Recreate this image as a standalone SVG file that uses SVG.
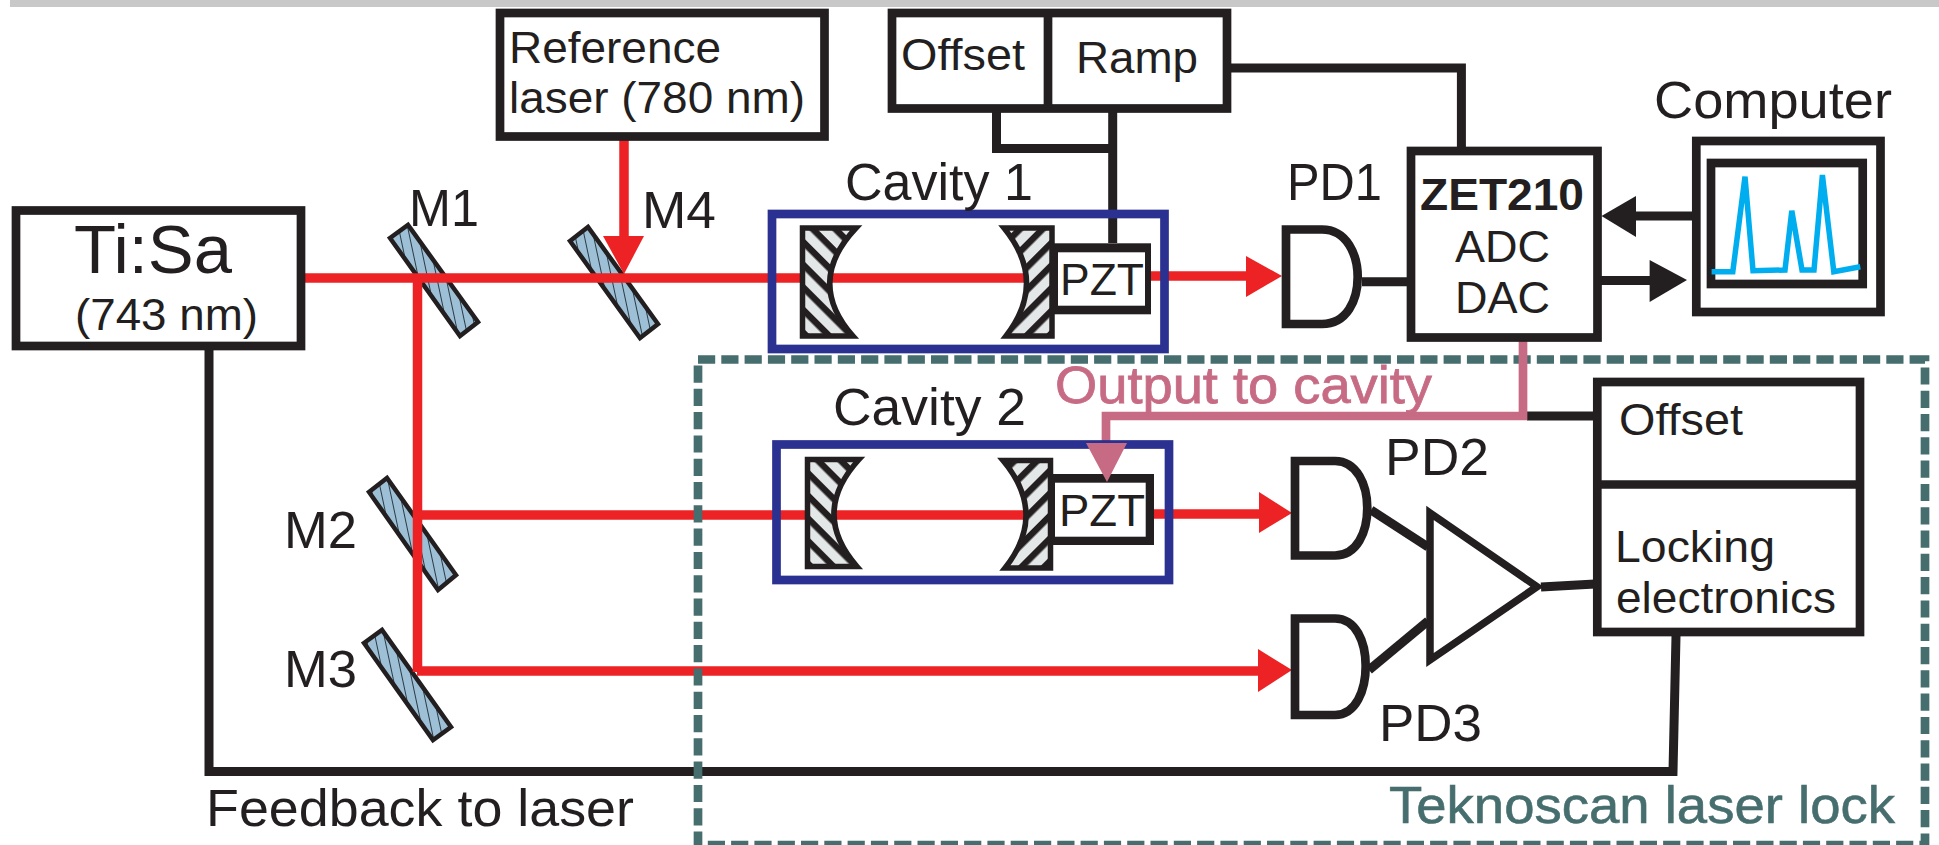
<svg xmlns="http://www.w3.org/2000/svg" width="1939" height="845" viewBox="0 0 1939 845">
<style>
text{font-family:"Liberation Sans",Arial,sans-serif;font-size:45px;fill:#231f20}
.lg{font-size:52px}
.box{fill:#fff;stroke:#231f20;stroke-width:8.7}
.nf{fill:none;stroke:#231f20;stroke-width:8.7}
.cav{fill:none;stroke:#2b3190;stroke-width:8.7}
.red{fill:none;stroke:#ed2224;stroke-width:9.5}
.rh{fill:#ed2224}
.blk{fill:none;stroke:#231f20;stroke-width:9}
.bh{fill:#231f20}
.pink{fill:none;stroke:#c76b85;stroke-width:8.7}
.ph{fill:#c76b85}
.pt{fill:#c76b85;stroke:#c76b85;stroke-width:.8}
.tk{fill:#476e6e;stroke:#476e6e;stroke-width:.6}
.mir{fill:url(#mh);stroke:#231f20;stroke-width:4.5;stroke-linejoin:miter}
.lm{fill:url(#hl);stroke:#231f20;stroke-width:5.5}
.rm{fill:url(#hr);stroke:#231f20;stroke-width:5.5}
</style>
<defs>
<pattern id="mh" width="9" height="9" patternUnits="userSpaceOnUse" patternTransform="rotate(-12)"><rect width="9" height="9" fill="#9dc0d6"/><rect width="1" height="9" fill="#2b3a44"/></pattern>
<pattern id="hl" width="16" height="16" patternUnits="userSpaceOnUse" patternTransform="rotate(45)"><rect width="16" height="16" fill="#e3e7e7"/><rect width="16" height="6.500" fill="#231f20"/></pattern>
<pattern id="hr" width="16" height="16" patternUnits="userSpaceOnUse" patternTransform="rotate(-45)"><rect width="16" height="16" fill="#e3e7e7"/><rect width="16" height="6.500" fill="#231f20"/></pattern>
</defs>
<rect width="1939" height="845" fill="#fff"/>
<rect x="10" y="0" width="1929" height="7" fill="#c8c8c8"/>

<g id="mirrors">
<polygon id="M1" class="mir" points="390,238 408,225 478,322 460,336"/>
<polygon id="M4" class="mir" points="570,241 588,227 658,324 640,338"/>
<polygon id="M2" class="mir" points="369,492 387,478 456,575 438,590"/>
<polygon id="M3" class="mir" points="364,643 382,630 451,727 433,740"/>
</g>

<g id="connectors">
<path class="red" d="M305 278H1030"/>
<path class="red" d="M417.5 278V672"/>
<path class="red" d="M417 515H1030"/>
<path class="red" d="M417 671H1262"/>
<path class="red" d="M1151 276H1250"/>
<path class="red" d="M1154 514H1262"/>
<path class="red" d="M624 140V240"/>
<polygon class="rh" points="603,236 644,236 624,274"/>
<polygon class="rh" points="1246,256 1282,276 1246,297"/>
<polygon class="rh" points="1259,492 1292,513 1259,533"/>
<polygon class="rh" points="1258,649 1292,670 1258,692"/>
<path class="blk" d="M209 350V771.500H1673L1676 636"/>
<path class="blk" d="M996.500 112V148.500H1112.700"/>
<path class="blk" d="M1112.700 112V243"/>
<path class="blk" d="M1231 68H1461.400V147"/>
<path class="blk" d="M1362 281.700H1407"/>
<path class="blk" d="M1692 216H1633"/>
<polygon class="bh" points="1636,196 1636,237 1601.500,216"/>
<path class="blk" d="M1600 280.500H1653"/>
<polygon class="bh" points="1649.600,260 1649.600,302 1687,280"/>
<path class="blk" d="M1371 510L1428 547"/>
<path class="blk" stroke-width="10" d="M1369 670L1428 621"/>
<path class="blk" d="M1541 587L1595 584"/>
<path class="blk" d="M1527 416H1595"/>
</g>

<g id="teknoscan-frame">
<path d="M698 359.500H1925V845H698Z" fill="none" stroke="#476e6e" stroke-width="8.700" stroke-dasharray="17.200 6.100"/>
<text class="lg tk" x="1389" y="822.500" textLength="506" lengthAdjust="spacingAndGlyphs">Teknoscan laser lock</text>
</g>

<g id="output-to-cavity">
<path class="pink" d="M1523 341V416H1106V446"/>
<text class="lg pt" x="1055" y="403" textLength="377" lengthAdjust="spacingAndGlyphs">Output to cavity</text>
</g>

<g id="tisa">
<rect class="box" x="16" y="210.500" width="285" height="135.500"/>
<text x="74" y="273" style="font-size:68px" textLength="158" lengthAdjust="spacingAndGlyphs">Ti:Sa</text>
<text x="75" y="330" textLength="183" lengthAdjust="spacingAndGlyphs">(743 nm)</text>
</g>
<g id="reference-laser">
<rect class="box" x="500" y="13" width="324.500" height="123.500"/>
<text x="509" y="62.700" textLength="212" lengthAdjust="spacingAndGlyphs">Reference</text>
<text x="509" y="113.300" textLength="296" lengthAdjust="spacingAndGlyphs">laser (780 nm)</text>
</g>
<g id="offset-ramp">
<rect class="box" x="892" y="13" width="335" height="95.500"/>
<path class="nf" d="M1048 13V108"/>
<text x="901" y="70" textLength="124" lengthAdjust="spacingAndGlyphs">Offset</text>
<text x="1076" y="73.300" textLength="122" lengthAdjust="spacingAndGlyphs">Ramp</text>
</g>
<g id="mirror-labels">
<text class="lg" x="409" y="226" textLength="70" lengthAdjust="spacingAndGlyphs">M1</text>
<text class="lg" x="642" y="228" textLength="74" lengthAdjust="spacingAndGlyphs">M4</text>
<text class="lg" x="284" y="548.300" textLength="73" lengthAdjust="spacingAndGlyphs">M2</text>
<text class="lg" x="284" y="686.700" textLength="73" lengthAdjust="spacingAndGlyphs">M3</text>
</g>

<g id="cavity1">
<rect class="cav" x="772" y="214" width="392.500" height="135"/>
<text x="845" y="200" style="font-size:51px" textLength="188" lengthAdjust="spacingAndGlyphs">Cavity 1</text>
<path class="lm" d="M802.500 228H856Q805 282 853 336H802.500Z"/>
<path class="rm" d="M1052 228H1004Q1048 282 1006 336H1052Z"/>
</g>
<g id="pzt1">
<rect x="1053" y="243.300" width="98" height="71" fill="#231f20"/>
<rect x="1058" y="252.300" width="87" height="53.400" fill="#fff"/>
<text x="1060" y="295" style="font-size:44px" textLength="84" lengthAdjust="spacingAndGlyphs">PZT</text>
</g>
<g id="cavity2">
<rect class="cav" x="776.500" y="444.500" width="392.500" height="135.500"/>
<text x="833" y="425" style="font-size:51px" textLength="193" lengthAdjust="spacingAndGlyphs">Cavity 2</text>
<path class="lm" d="M807.500 459.500H859Q810 513 857 566.500H807.500Z"/>
<path class="rm" d="M1050.500 460.500H1003Q1048 514 1005 568H1050.500Z"/>
</g>
<g id="pzt2">
<rect x="1053" y="474" width="101" height="71" fill="#231f20"/>
<rect x="1055" y="482.700" width="90.700" height="54" fill="#fff"/>
<text x="1059" y="525.700" style="font-size:44px" textLength="86" lengthAdjust="spacingAndGlyphs">PZT</text>
</g>
<polygon id="output-arrowhead" class="ph" points="1086,443 1127,443 1107,482"/>

<g id="pd1">
<path class="box" d="M1286 229.500H1322C1347 229.500 1357.700 255 1357.700 277C1357.700 300 1347 324 1322 324H1286Z"/>
<text x="1287" y="200" style="font-size:51px" textLength="95" lengthAdjust="spacingAndGlyphs">PD1</text>
</g>
<g id="pd2">
<path class="box" d="M1295 461H1335C1357 461 1367.300 485 1367.300 508C1367.300 532 1357 555.500 1335 555.500H1295Z"/>
<text x="1385" y="475" style="font-size:51px" textLength="104" lengthAdjust="spacingAndGlyphs">PD2</text>
</g>
<g id="pd3">
<path class="box" d="M1295 618.500H1335C1356 618.500 1365.700 642 1365.700 666C1365.700 690 1356 715 1335 715H1295Z"/>
<text x="1379" y="741" style="font-size:51px" textLength="103" lengthAdjust="spacingAndGlyphs">PD3</text>
</g>
<g id="amplifier">
<polygon points="1430,513 1430,660 1537,586.700" fill="#fff" stroke="#231f20" stroke-width="7.500"/>
</g>
<g id="zet210">
<rect class="box" x="1411" y="151" width="186.500" height="186.500"/>
<text x="1420" y="210" style="font-size:44px;font-weight:bold" textLength="164" lengthAdjust="spacingAndGlyphs">ZET210</text>
<text x="1455" y="261.700" textLength="95" lengthAdjust="spacingAndGlyphs">ADC</text>
<text x="1455" y="313" textLength="95" lengthAdjust="spacingAndGlyphs">DAC</text>
</g>
<g id="computer">
<text x="1654" y="118" class="lg" textLength="238" lengthAdjust="spacingAndGlyphs">Computer</text>
<rect class="box" x="1696.300" y="141" width="184.200" height="171"/>
<rect class="box" x="1711" y="163" width="151.700" height="121"/>
<polyline points="1711.600,271.700 1732.800,271.700 1745,176.700 1753,270.700 1785,270 1791.800,210.700 1802,270 1814,270 1822.400,175 1833.800,271.700 1860.300,266.700" fill="none" stroke="#00aeef" stroke-width="5.500"/>
</g>
<g id="locking-electronics">
<rect class="box" x="1597.300" y="382" width="262.700" height="250"/>
<path class="nf" d="M1597.300 484.500H1860"/>
<text x="1619" y="435" textLength="124" lengthAdjust="spacingAndGlyphs">Offset</text>
<text x="1615" y="562" textLength="160" lengthAdjust="spacingAndGlyphs">Locking</text>
<text x="1616" y="612.700" textLength="220" lengthAdjust="spacingAndGlyphs">electronics</text>
</g>
<text id="feedback-label" x="206" y="826" class="lg" textLength="428" lengthAdjust="spacingAndGlyphs">Feedback to laser</text>
</svg>
